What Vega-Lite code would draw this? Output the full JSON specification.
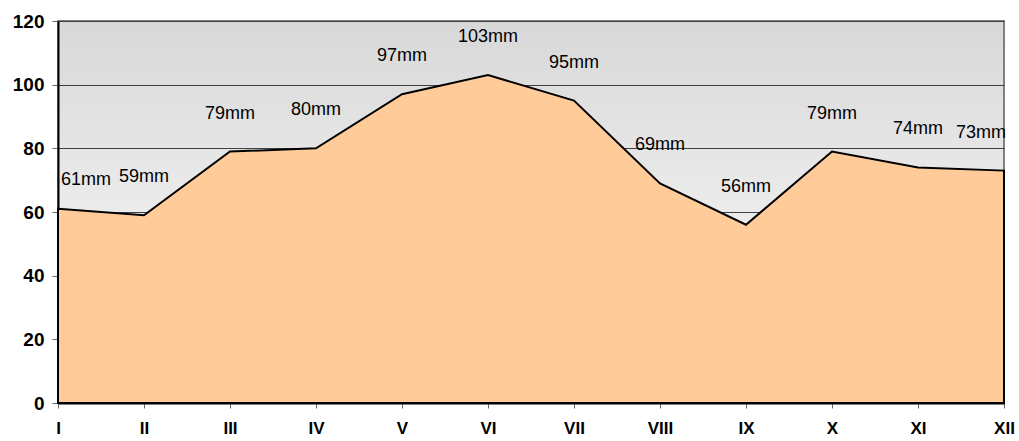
{
  "$schema": "https://vega.github.io/schema/vega-lite/v6.json",
  "autosize": "none",
  "width": 946,
  "height": 382,
  "padding": {"left": 58, "top": 21, "right": 15, "bottom": 38},
  "background": "white",
  "config": {
    "font": "Liberation Sans",
    "view": {
      "stroke": "#808080",
      "strokeWidth": 2,
      "fill": {"gradient": "linear", "x1": 0, "y1": 0, "x2": 0, "y2": 1,
        "stops": [{"offset": 0, "color": "#D8D8D8"}, {"offset": 1, "color": "#FFFFFF"}]}
    }
  },
  "data": {"values": [
    {"m": "I", "v": 61, "label": "61mm", "pos": "first"},
    {"m": "II", "v": 59, "label": "59mm", "pos": "mid"},
    {"m": "III", "v": 79, "label": "79mm", "pos": "mid"},
    {"m": "IV", "v": 80, "label": "80mm", "pos": "mid"},
    {"m": "V", "v": 97, "label": "97mm", "pos": "mid"},
    {"m": "VI", "v": 103, "label": "103mm", "pos": "mid"},
    {"m": "VII", "v": 95, "label": "95mm", "pos": "mid"},
    {"m": "VIII", "v": 69, "label": "69mm", "pos": "mid"},
    {"m": "IX", "v": 56, "label": "56mm", "pos": "mid"},
    {"m": "X", "v": 79, "label": "79mm", "pos": "mid"},
    {"m": "XI", "v": 74, "label": "74mm", "pos": "mid"},
    {"m": "XII", "v": 73, "label": "73mm", "pos": "last"}
  ]},
  "encoding": {
    "x": {"field": "m", "type": "ordinal", "sort": null,
      "scale": {"type": "point", "padding": 0},
      "axis": {"title": null, "labelAngle": 0, "labelFont": "Liberation Sans", "labelFontWeight": "bold", "labelFontSize": 17, "labelColor": "black",
        "labelBaseline": "alphabetic", "labelPadding": 25,
        "domainColor": "black", "domainWidth": 2, "tickColor": "#666666", "tickSize": 5, "grid": false}},
    "y": {"field": "v", "type": "quantitative",
      "scale": {"domain": [0, 120], "nice": false},
      "axis": {"title": null, "values": [0, 20, 40, 60, 80, 100, 120], "labelFont": "Liberation Sans", "labelFontWeight": "bold", "labelFontSize": 19, "labelColor": "black",
        "domainColor": "black", "domainWidth": 2, "tickColor": "#666666", "tickSize": 6, "labelPadding": 8,
        "grid": true, "gridColor": "#404040", "gridWidth": 1}}
  },
  "layer": [
    {"mark": {"type": "area", "fill": "#FFCC99", "stroke": "black", "strokeWidth": 2, "line": false}},
    {"transform": [{"filter": "datum.pos === 'mid'"}],
      "mark": {"type": "text", "fontSize": 18, "dy": -38, "align": "center", "baseline": "middle", "color": "black"},
      "encoding": {"text": {"field": "label"}}},
    {"transform": [{"filter": "datum.pos === 'first'"}],
      "mark": {"type": "text", "fontSize": 18, "dy": -29, "dx": 3, "align": "left", "baseline": "middle", "color": "black"},
      "encoding": {"text": {"field": "label"}}},
    {"transform": [{"filter": "datum.pos === 'last'"}],
      "mark": {"type": "text", "fontSize": 18, "dy": -38, "dx": 2, "align": "right", "baseline": "middle", "color": "black"},
      "encoding": {"text": {"field": "label"}}}
  ]
}
